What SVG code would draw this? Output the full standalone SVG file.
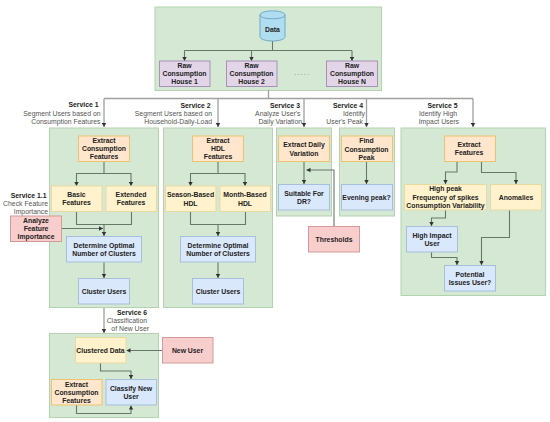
<svg xmlns="http://www.w3.org/2000/svg" width="550" height="422" viewBox="0 0 550 422">
<defs>
<marker id="ah" markerUnits="userSpaceOnUse" markerWidth="5" markerHeight="5" refX="4" refY="2.5" orient="auto"><path d="M0 0.300L4 2.500L0 4.700Z" fill="#333"/></marker>
</defs>
<style>
text{font-family:"Liberation Sans",Arial,sans-serif;font-size:6.85px;fill:#222;text-anchor:middle}
.b{font-weight:bold}
.s{fill:#555}
.r{text-anchor:end}
rect{stroke-width:1}
.g{fill:#d5e8d4;stroke:#b2d3ae}
.o{fill:#ffe6cc;stroke:#eec26e}
.y{fill:#fff2cc;stroke:#e9d9a0}
.u{fill:#dae8fc;stroke:#a5bfdc}
.p{fill:#e1d5e7;stroke:#a892b5}
.e{fill:#f8cecc;stroke:#d49a97}
.c{fill:none;stroke:#66786a;stroke-width:1.100}
.t{fill:none;stroke:#a0a0a0;stroke-width:1.300}
.a{marker-end:url(#ah)}
</style>
<rect class="g" x="155" y="7" width="226.500" height="83.500"/>
<rect class="g" x="49.500" y="128" width="109" height="179.500"/>
<rect class="g" x="163.500" y="128" width="109" height="179.500"/>
<rect class="g" x="276.500" y="128" width="55" height="88"/>
<rect class="g" x="339.500" y="128" width="55" height="88"/>
<rect class="g" x="401" y="128" width="144.500" height="167.500"/>
<rect class="g" x="49.500" y="333.500" width="109" height="84"/>
<g id="connectors">
<path class="c" d="M272.500 40V50.500M184.500 50.500H352"/>
<path class="c a" d="M184.500 50.500V61"/>
<path class="c a" d="M251.500 50.500V61"/>
<path class="c a" d="M352 50.500V61"/>
<path class="t" d="M268.500 90V98.500M104 98.500H473"/>
<path class="t a" d="M104 98.500V127"/>
<path class="t a" d="M218 98.500V127"/>
<path class="t a" d="M304 98.500V127"/>
<path class="t a" d="M366.500 98.500V127"/>
<path class="t a" d="M473 98.500V127"/>
<path class="c a" d="M104 161V173.500H76.500V186"/>
<path class="c a" d="M104 173.500H131V186"/>
<path class="c" d="M76.500 211V224.500H131.500V211"/>
<path class="c a" d="M104 224.500V236"/>
<path class="c a" d="M62 228.500H103"/>
<path class="c a" d="M104 262V278"/>
<path class="c a" d="M218 161V173.500H190.500V186"/>
<path class="c a" d="M218 173.500H245V186"/>
<path class="c" d="M190.500 211V224.500H245.500V211"/>
<path class="c a" d="M218 224.500V236"/>
<path class="c a" d="M218 262V278"/>
<path class="c a" d="M304 161V184"/>
<path class="c a" d="M334 226V170H306.500"/>
<path class="c a" d="M366.500 161V184"/>
<path class="c a" d="M457 161V172H445.500V184"/>
<path class="c a" d="M481.500 161V172.500H516V184"/>
<path class="c a" d="M445.500 210V218H431.500V226"/>
<path class="c a" d="M431.500 252V257.500H457V265"/>
<path class="c a" d="M509.500 210V237.500H481.500V265"/>
<path class="t a" d="M104 308V333"/>
<path class="c a" d="M100.500 363V371H131V379"/>
<path class="c a" d="M162.500 350.500H126.500"/>
<path class="c a" d="M76.500 405V413.500H131V405.500"/>
</g>
<g id="data"><path d="M260 15V36.500C260 42.500 285 42.500 285 36.500V15C285 9.500 260 9.500 260 15Z" fill="#b1ddf0" stroke="#6fa9c6"/><path d="M260 15C260 20 285 20 285 15" fill="none" stroke="#6fa9c6"/><text class="b" x="272.500" y="31.500">Data</text></g>
<g id="house1"><rect class="p" x="159.500" y="61" width="50.500" height="25.500"/><text class="b" x="184.500" y="67.500">Raw</text><text class="b" x="184.500" y="76">Consumption</text><text class="b" x="184.500" y="84">House 1</text></g>
<g id="house2"><rect class="p" x="226.500" y="61" width="50.500" height="25.500"/><text class="b" x="251.500" y="67.500">Raw</text><text class="b" x="251.500" y="76">Consumption</text><text class="b" x="251.500" y="84">House 2</text></g>
<text x="302.500" y="75" letter-spacing="1.300" fill="#777" style="fill:#777">.....</text>
<g id="houseN"><rect class="p" x="326.500" y="61" width="51" height="25.500"/><text class="b" x="352" y="67.500">Raw</text><text class="b" x="352" y="76">Consumption</text><text class="b" x="352" y="84">House N</text></g>
<g id="s1label"><text class="b r" x="98.500" y="107">Service 1</text><text class="s r" x="100.500" y="115.500">Segment Users based on</text><text class="s r" x="100.500" y="123.500">Consumption Features</text></g>
<g id="s2label"><text class="b r" x="210.500" y="107.500">Service 2</text><text class="s r" x="212" y="115.500">Segment Users based on</text><text class="s r" x="212" y="123.500">Household-Daily-Load</text></g>
<g id="s3label"><text class="b r" x="300" y="107.500">Service 3</text><text class="s r" x="300.500" y="115.500">Analyze User's</text><text class="s r" x="302" y="123.500">Daily Variation</text></g>
<g id="s4label"><text class="b r" x="363" y="107.500">Service 4</text><text class="s r" x="365" y="115.500">Identify</text><text class="s r" x="363" y="123.500">User's Peak</text></g>
<g id="s5label"><text class="b r" x="457.500" y="107.500">Service 5</text><text class="s r" x="457" y="115.500">Identify High</text><text class="s r" x="459" y="123.500">Impact Users</text></g>
<g id="n1"><rect class="o" x="78.500" y="136" width="51" height="25.500"/><text class="b" x="104" y="142.500">Extract</text><text class="b" x="104" y="151">Consumption</text><text class="b" x="104" y="159">Features</text></g>
<g id="n2"><rect class="y" x="51.500" y="186" width="50.500" height="25.500"/><text class="b" x="76.500" y="196.500">Basic</text><text class="b" x="76.500" y="205">Features</text></g>
<g id="n3"><rect class="y" x="106" y="186" width="50.500" height="25.500"/><text class="b" x="131" y="196.500">Extended</text><text class="b" x="131" y="205">Features</text></g>
<g id="s11label"><text class="b r" x="46.500" y="197.500">Service 1.1</text><text class="s r" x="48" y="205.500">Check Feature</text><text class="s r" x="48" y="214">Importance</text></g>
<g id="n4"><rect class="e" x="10.500" y="216" width="51" height="25.500"/><text class="b" x="36" y="222.800">Analyze</text><text class="b" x="36" y="231">Feature</text><text class="b" x="36" y="239">Importance</text></g>
<g id="n5"><rect class="u" x="66.500" y="236.500" width="75" height="25.500"/><text class="b" x="104" y="247.500">Determine Optimal</text><text class="b" x="104" y="256">Number of Clusters</text></g>
<g id="n6"><rect class="u" x="78.500" y="278.500" width="51" height="25.500"/><text class="b" x="104" y="293.500">Cluster Users</text></g>
<g id="n7"><rect class="o" x="192.500" y="136" width="51" height="25.500"/><text class="b" x="218" y="142.500">Extract</text><text class="b" x="218" y="151">HDL</text><text class="b" x="218" y="159">Features</text></g>
<g id="n8"><rect class="y" x="165.500" y="186" width="50.500" height="25.500"/><text class="b" x="190.500" y="197">Season-Based</text><text class="b" x="190.500" y="205.500">HDL</text></g>
<g id="n9"><rect class="y" x="220" y="186" width="50.500" height="25.500"/><text class="b" x="245" y="197">Month-Based</text><text class="b" x="245" y="205.500">HDL</text></g>
<g id="n10"><rect class="u" x="180.500" y="236.500" width="75" height="25.500"/><text class="b" x="218" y="247.500">Determine Optimal</text><text class="b" x="218" y="256">Number of Clusters</text></g>
<g id="n11"><rect class="u" x="192.500" y="278.500" width="51" height="25.500"/><text class="b" x="218" y="293.500">Cluster Users</text></g>
<g id="n12"><rect class="o" x="278.500" y="136" width="51" height="25.500"/><text class="b" x="304" y="147">Extract Daily</text><text class="b" x="304" y="155.500">Variation</text></g>
<g id="n13"><rect class="u" x="278.500" y="184.500" width="51" height="25.500"/><text class="b" x="304" y="195.500">Suitable For</text><text class="b" x="304" y="204">DR?</text></g>
<g id="n14"><rect class="e" x="308.500" y="226.500" width="51" height="25.500"/><text class="b" x="334" y="241.500">Thresholds</text></g>
<g id="n15"><rect class="o" x="341.500" y="136" width="51" height="25.500"/><text class="b" x="366.500" y="143">Find</text><text class="b" x="366.500" y="151.500">Consumption</text><text class="b" x="366.500" y="159.500">Peak</text></g>
<g id="n16"><rect class="u" x="341.500" y="184.500" width="51" height="25.500"/><text class="b" x="366.500" y="199.500">Evening peak?</text></g>
<g id="n17"><rect class="o" x="444.500" y="136" width="51" height="25.500"/><text class="b" x="469" y="146.800">Extract</text><text class="b" x="469" y="155">Features</text></g>
<g id="n18"><rect class="y" x="404.500" y="184.500" width="82" height="25.500"/><text class="b" x="445.500" y="191">High peak</text><text class="b" x="445.500" y="199.500">Frequency of spikes</text><text class="b" x="445.500" y="207.500">Consumption Variability</text></g>
<g id="n19"><rect class="y" x="490.500" y="184.500" width="51" height="25.500"/><text class="b" x="516" y="199.500">Anomalies</text></g>
<g id="n20"><rect class="u" x="406.500" y="226.500" width="51" height="25.500"/><text class="b" x="432" y="237.500">High Impact</text><text class="b" x="432" y="245.500">User</text></g>
<g id="n21"><rect class="u" x="444.500" y="265.500" width="51" height="25.500"/><text class="b" x="470" y="276.500">Potential</text><text class="b" x="470" y="285">Issues User?</text></g>
<g id="s6label"><text class="b r" x="147" y="314.500">Service 6</text><text class="s r" x="147" y="323">Classification</text><text class="s r" x="149" y="331">of New User</text></g>
<g id="n22"><rect class="y" x="75.500" y="337.500" width="50.500" height="25.500"/><text class="b" x="100.500" y="352.500">Clustered Data</text></g>
<g id="n23"><rect class="e" x="162.500" y="337.500" width="50.500" height="25.500"/><text class="b" x="187.500" y="352.500">New User</text></g>
<g id="n24"><rect class="o" x="51.500" y="379.500" width="50.500" height="25.500"/><text class="b" x="76.500" y="386.500">Extract</text><text class="b" x="76.500" y="394.500">Consumption</text><text class="b" x="76.500" y="402.500">Features</text></g>
<g id="n25"><rect class="u" x="106" y="379.500" width="50.500" height="25.500"/><text class="b" x="131" y="390.500">Classify New</text><text class="b" x="131" y="399">User</text></g>
</svg>
